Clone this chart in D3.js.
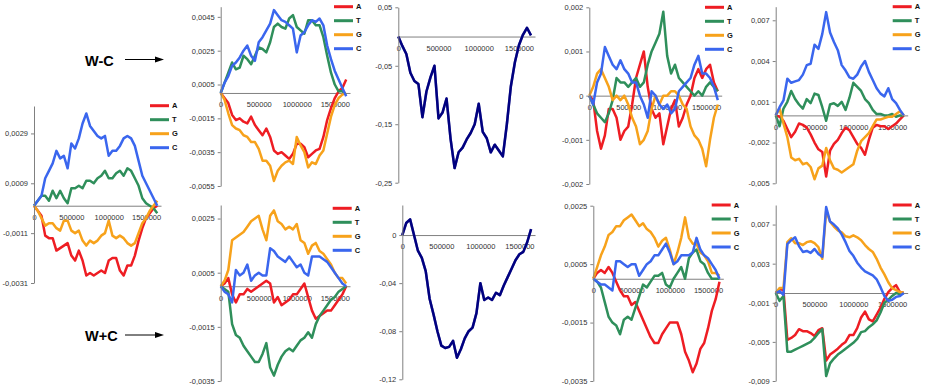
<!DOCTYPE html>
<html>
<head>
<meta charset="utf-8">
<script src="https://cdn.jsdelivr.net/npm/d3@7/dist/d3.min.js"></script>
<style>
body { margin: 0; background: #fff; }
svg { display: block; font-family: "Liberation Sans", Arial, sans-serif; }
.axis path, .axis line { stroke: #808080; }
.axis text { fill: #333; font-size: 7.5px; }
.legend text { font-size: 7.5px; font-weight: bold; fill: #111; }
.series { fill: none; stroke-width: 2.5; stroke-linejoin: round; }
.title { font-size: 14.5px; font-weight: bold; fill: #000; }
</style>
</head>
<body>
<script>
// Positionen im Genom (bp)
var pos = [0, 50000, 100000, 150000, 200000, 250000, 300000, 350000, 400000, 450000,
  500000, 550000, 600000, 650000, 700000, 750000, 800000, 850000, 900000, 950000,
  1000000, 1050000, 1100000, 1150000, 1200000, 1250000, 1300000, 1350000, 1400000, 1450000,
  1500000, 1550000, 1600000, 1650000];

var bases = ["A", "T", "G", "C"];
var baseColors = ["#ee1d23", "#2f8f5b", "#f7a21b", "#3a66ee"];
var xTicks = [0, 500000, 1000000, 1500000];

// Werte in Einheiten von 0,0001 (Navy-Kurven: 0,01)
// Bild 1: W+C, links
var p1A = [0,-2,-4,-12,-13,-13,-18,-17,-16,-15,-20,-22,-18,-22,-28,-27,-28,-27,-26,-27,-22,-21,-21,-26,-28,-24,-24,-20,-14,-9,-5,-3,-1,0];
var p1T = [0,2,4,4,2,6,3,6,3,1,7,7,8,7,10,10,9,11,12,14,11,11,13,14,12,15,14,11,8,3,1,0,-1,-3];
var p1G = [0,-2,-5,-8,-7,-7,-9,-10,-6,-6,-10,-11,-10,-14,-16,-14,-15,-14,-12,-11,-6,-12,-13,-12,-13,-15,-16,-15,-11,-7,-5,-2,0,2];
var p1C = [0,2,4,11,14,17,22,19,20,15,25,23,27,33,37,32,30,28,27,28,20,22,22,24,27,28,27,24,18,12,9,6,3,0];
var p1Ticks = [0.0029, 0.0009, -0.0011, -0.0031];

// Bild 2: W-C
var p2A = [0,-3,-6,-13,-16,-15,-17,-18,-14,-19,-22,-25,-21,-26,-34,-36,-35,-37,-39,-36,-30,-30,-32,-38,-36,-34,-33,-26,-16,-9,-3,1,3,8];
var p2T = [0,6,12,18,14,15,22,20,17,22,27,26,24,30,39,41,39,38,44,46,39,37,35,43,43,40,40,33,22,12,5,1,1,-1];
var p2G = [0,-4,-12,-19,-21,-22,-25,-26,-29,-29,-33,-40,-40,-43,-52,-46,-43,-41,-40,-42,-26,-31,-35,-44,-41,-42,-37,-34,-24,-14,-7,-3,-1,0];
var p2C = [0,6,10,16,18,21,25,28,22,19,30,33,37,41,49,46,43,42,40,38,24,34,36,40,43,42,44,40,28,20,13,8,3,-2];
var p2Ticks = [0.0045, 0.0025, 0.0005, -0.0015, -0.0035, -0.0055];

// Bild 6: W+C
var p6A = [0,1,3,-3,-6,-3,-3,-1,-2,-1,0,1,2,1,-6,-4,-7,-6,-5,-3,-3,-1,1,-4,-9,-12,-11,-10,-9,-9,-7,-5,-3,0];
var p6T = [0,-1,-2,-14,-18,-19,-22,-24,-26,-28,-28,-25,-21,-30,-33,-29,-26,-24,-23,-24,-22,-20,-19,-17,-19,-14,-11,-9,-7,-5,-4,-2,-1,0];
var p6G = [0,2,6,17,18,19,20,22,24,25,26,21,17,26,28,24,23,21,22,21,23,17,16,12,15,16,13,12,10,8,5,3,3,1];
var p6C = [0,-2,-3,-6,6,4,5,8,2,4,5,4,4,14,13,11,10,9,11,9,7,8,5,4,11,11,11,10,9,7,5,3,1,0];
var p6Ticks = [0.0025, 0.0005, -0.0015, -0.0035];

// Bild 3 + 7: Summenkurven (0,01)
var p3W = [0,-1.6,-3.0,-6.2,-7.6,-8.1,-13.8,-9.4,-7.0,-5.0,-14.0,-13.0,-10.6,-17.5,-22.5,-19.8,-19.0,-17.6,-16.5,-15.0,-11.5,-16.3,-17.4,-19.8,-18.5,-19.5,-20.5,-15.0,-8.5,-4.4,-1.5,0.3,1.5,0.2];
var p3Ticks = [0.05, -0.05, -0.15, -0.25];
var p7W = [0,1.0,1.3,0,-1.3,-1.9,-3.0,-5.3,-6.6,-8.0,-9.2,-9.4,-9.3,-8.8,-10.2,-9.5,-8.6,-8.0,-7.7,-6.5,-4.0,-5.4,-5.2,-5.4,-4.8,-5.0,-4.2,-3.5,-2.8,-2.1,-1.6,-1.4,-0.6,0.5];
var p7Ticks = [0, -0.04, -0.08, -0.12];

// Bild 4: W-C
var p4A = [0,-1,-8,-12,-9,-3,-3,-5,-10,-8,-7,-2,4,7,10,2,-3,-5,-4,-11,-7,-3,-1,-7,-5,-2,0,4,6,4,6,7,3,1];
var p4T = [0,-2,-4,-5,-6,-4,-1,4,3,3,2,3,4,2,3,7,10,12,14,19,9,5,7,4,3,2,1,0,1,0,2,3,2,1];
var p4G = [0,2,5,6,4,2,-1,0,-1,0,-2,-5,-7,-11,-10,-8,-3,0,-2,0,0,1,1,0,-2,-3,-7,-9,-10,-12,-16,-10,-5,-2];
var p4C = [0,-2,3,5,11,9,7,6,8,6,5,3,3,0,-2,-5,1,0,-2,-3,-2,-4,-3,1,2,3,4,7,9,5,5,4,2,-1];
var p4Ticks = [0.002, 0.001, 0, -0.001, -0.002];

// Bild 8: W+C
var p8A = [0,2,3,2,4,2,-1,-4,-6,-6,-9,-8,-11,-14,-17,-20,-22,-22,-19,-17,-15,-15,-15,-19,-25,-28,-32,-29,-24,-22,-17,-11,-7,-1];
var p8T = [0,-1,-3,-8,-13,-15,-16,-19,-14,-13,-14,-10,-6,-2,-3,-1,1,1,2,-2,-3,0,2,4,0,7,9,10,6,5,2,0,0,0];
var p8G = [0,4,8,11,15,16,18,18,20,21,22,20,18,19,17,16,14,11,13,14,10,5,9,14,21,14,12,12,9,8,6,2,2,1];
var p8C = [0,-1,-2,-2,-3,-4,6,6,5,4,5,5,1,3,5,6,8,8,10,12,9,5,6,8,8,8,9,14,10,8,7,5,3,0];
var p8Ticks = [0.0025, 0.0005, -0.0015, -0.0035];

// Bild 5: W-C
var p5A = [0,-1,-4,-10,-16,-12,-6,-7,-9,-14,-20,-25,-27,-45,-26,-21,-18,-13,-9,-11,-16,-21,-24,-29,-18,-9,-7,-8,-8,-10,-8,-6,-3,0];
var p5T = [0,-8,5,10,18,12,8,5,12,9,16,15,6,-4,8,9,7,10,4,13,24,21,18,12,9,4,1,1,0,0,1,-1,0,0];
var p5G = [0,5,-6,-16,-31,-33,-32,-36,-35,-38,-47,-39,-37,-24,-33,-39,-40,-42,-40,-38,-36,-26,-19,-16,-13,-8,-3,-3,-2,-1,-1,1,3,0];
var p5C = [0,6,11,27,24,25,26,30,37,38,52,49,60,76,61,54,48,37,33,28,27,30,36,40,32,26,20,16,14,20,12,9,4,0];
var p5Ticks = [0.007, 0.004, 0.001, -0.002, -0.005];

// Bild 9: W+C
var p9A = [0,4,3,-48,-46,-43,-37,-39,-39,-41,-44,-38,-36,-69,-63,-60,-57,-53,-50,-43,-43,-36,-25,-19,-27,-29,-22,-15,-6,1,5,8,1,0];
var p9T = [0,-8,-3,-60,-60,-58,-56,-54,-52,-50,-46,-41,-37,-85,-72,-67,-63,-60,-57,-54,-51,-47,-40,-39,-35,-32,-28,-20,-10,-7,-3,0,-1,0];
var p9G = [0,5,5,52,56,51,51,49,52,53,51,47,35,84,73,68,64,62,58,57,59,57,54,49,45,42,35,26,19,11,5,3,1,0];
var p9C = [0,2,-2,50,54,57,48,42,43,41,45,40,37,88,73,70,66,60,52,43,38,31,26,22,20,18,14,6,-3,-8,-7,-4,-3,0];
var p9Ticks = [0.007, 0.003, -0.001, -0.005, -0.009];

// Layout der Einzelbilder
var panels = [
  {x0: 34, x1: 161, yT: 106, yB: 283, dom: [-0.0031, 0.0040], ticks: p1Ticks, f: ".4~f", unit: 1e-4, series: [p1A, p1T, p1G, p1C], legend: [150, 105.7]},
  {x0: 220.7, x1: 350, yT: 6.7, yB: 186, dom: [-0.0055, 0.0051], ticks: p2Ticks, f: ".4~f", unit: 1e-4, series: [p2A, p2T, p2G, p2C], legend: [334, 6.7]},
  {x0: 220.7, x1: 350, yT: 205, yB: 381, dom: [-0.0035, 0.0030], ticks: p6Ticks, f: ".4~f", unit: 1e-4, series: [p6A, p6T, p6G, p6C], legend: [332.7, 208.3]},
  {x0: 398.3, x1: 535, yT: 7.3, yB: 182.7, dom: [-0.25, 0.05], ticks: p3Ticks, f: ".2~f", unit: 0.01, series: [p3W], navy: true},
  {x0: 402.3, x1: 535, yT: 205, yB: 379.3, dom: [-0.12, 0.025], ticks: p7Ticks, f: ".2~f", unit: 0.01, series: [p7W], navy: true},
  {x0: 589.3, x1: 721.7, yT: 7.3, yB: 184, dom: [-0.002, 0.002], ticks: p4Ticks, f: ".3~f", unit: 1e-4, series: [p4A, p4T, p4G, p4C], legend: [705, 7.3]},
  {x0: 593.3, x1: 723.3, yT: 205.7, yB: 381, dom: [-0.0035, 0.0025], ticks: p8Ticks, f: ".4~f", unit: 1e-4, series: [p8A, p8T, p8G, p8C], legend: [711.7, 205]},
  {x0: 775.7, x1: 907.7, yT: 6.7, yB: 183.3, dom: [-0.005, 0.008], ticks: p5Ticks, f: ".3~f", unit: 1e-4, series: [p5A, p5T, p5G, p5C], legend: [892.7, 6.7]},
  {x0: 775.7, x1: 907.7, yT: 205, yB: 381, dom: [-0.009, 0.009], ticks: p9Ticks, f: ".3~f", unit: 1e-4, series: [p9A, p9T, p9G, p9C], legend: [892.7, 205]}
];

// Komma als Dezimalzeichen, normales Minus
var loc = d3.formatLocale({decimal: ",", thousands: "", grouping: [3], currency: ["", ""], minus: "-"});

var svg = d3.select("body").append("svg")
  .attr("width", 926)
  .attr("height", 391);

panels.forEach(function (p) {
  var x = d3.scaleLinear().domain([0, 1700000]).range([p.x0, p.x1]);
  var y = d3.scaleLinear().domain(p.dom).range([p.yB, p.yT]);
  var g = svg.append("g");

  // x Achse auf der Nulllinie
  g.append("g")
    .attr("class", "axis")
    .attr("transform", "translate(0," + y(0) + ")")
    .call(d3.axisBottom(x).tickValues(xTicks).tickSize(0).tickPadding(9).tickFormat(d3.format("d")));

  var line = d3.line()
    .x(function (d, i) { return x(pos[i]); })
    .y(function (d) { return y(d * p.unit); });

  p.series.forEach(function (s, k) {
    if (p.navy) {
      g.append("path").datum(s)
        .attr("class", "series")
        .attr("stroke", "#7a7ab8")
        .attr("stroke-width", 4)
        .attr("d", line);
    }
    g.append("path").datum(s)
      .attr("class", "series")
      .attr("stroke", p.navy ? "#000080" : baseColors[k])
      .attr("stroke-width", p.navy ? 2.6 : null)
      .attr("d", line);
  });

  // y Achse
  g.append("g")
    .attr("class", "axis")
    .attr("transform", "translate(" + p.x0 + ",0)")
    .call(d3.axisLeft(y).tickValues(p.ticks).tickSizeInner(3).tickSizeOuter(0).tickPadding(3).tickFormat(loc.format(p.f)));

  // Legende
  if (p.legend) {
    var lg = g.append("g").attr("class", "legend")
      .attr("transform", "translate(" + p.legend[0] + "," + p.legend[1] + ")");
    bases.forEach(function (b, k) {
      lg.append("line")
        .attr("x1", 0).attr("x2", 19)
        .attr("y1", k * 14).attr("y2", k * 14)
        .attr("stroke", baseColors[k])
        .attr("stroke-width", 3);
      lg.append("text")
        .attr("x", 22).attr("y", k * 14)
        .attr("dy", "0.35em")
        .text(b);
    });
  }
});

// Beschriftung W-C / W+C mit Pfeil
var tags = [{t: "W-C", y: 66, ay: 59.5}, {t: "W+C", y: 340.5, ay: 335}];
tags.forEach(function (d) {
  svg.append("text").attr("class", "title").attr("x", 85).attr("y", d.y).text(d.t);
  svg.append("line")
    .attr("x1", 125).attr("x2", 156)
    .attr("y1", d.ay).attr("y2", d.ay)
    .attr("stroke", "#000").attr("stroke-width", 1);
  svg.append("path")
    .attr("d", "M155," + (d.ay - 3) + "L164," + d.ay + "L155," + (d.ay + 3) + "Z")
    .attr("fill", "#000");
});
</script>
</body>
</html>
